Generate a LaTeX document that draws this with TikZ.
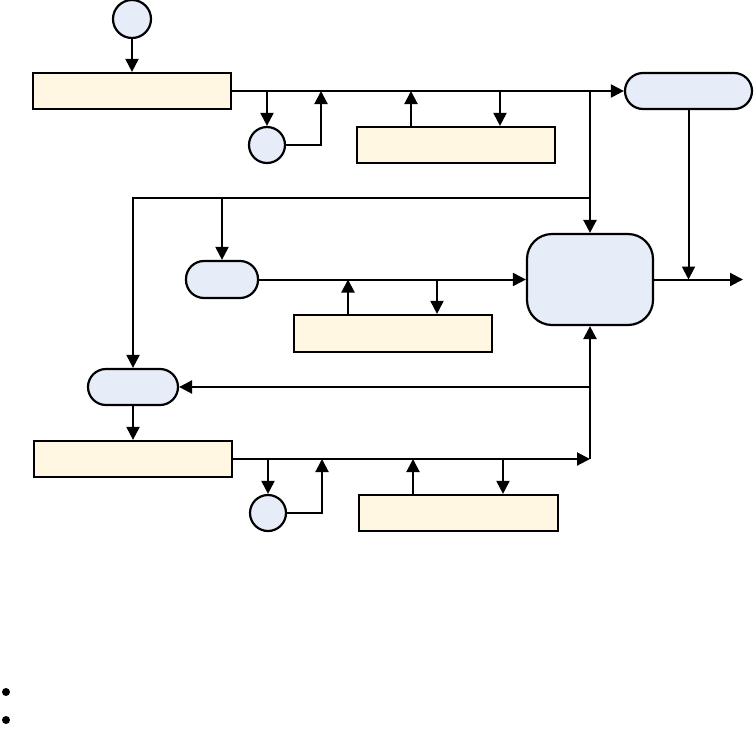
\documentclass[tikz,border=0pt]{standalone}
\usetikzlibrary{arrows.meta}
\tikzset{>={Triangle[length=13pt,width=13pt]}}
\definecolor{boxyellow}{HTML}{FFF7E1}
\definecolor{boxblue}{HTML}{E6EDF8}
\tikzset{
  plain/.style={draw, line width=2.2pt, inner sep=0pt},
  bar/.style={plain, rectangle, fill=boxyellow, minimum width=198pt, minimum height=36pt},
  dot/.style={plain, circle, fill=boxblue, minimum size=36pt},
  pill/.style={plain, rectangle, rounded corners=18pt, fill=boxblue, minimum height=36pt},
  bullet/.style={circle, fill, minimum size=8pt, inner sep=0pt},
  flow/.style={line width=2pt}
}

\begin{document}
\begin{tikzpicture}[x=1pt, y=-1pt]
      \useasboundingbox (0, 0) rectangle (754, 734);
      % blocks
      \node[dot, minimum size=38pt] (src) at (132, 19) {};
      \node[bar] (barA) at (132, 91) {};
      \node[dot] (dotA) at (267, 145) {};
      \node[bar] (barB) at (456, 145) {};
      \node[pill, minimum width=127pt] (pillR) at (688.5, 91) {};
      \node[plain, rectangle, rounded corners=25pt, fill=boxblue, minimum width=126pt, minimum height=91pt] (core) at (590, 279.5) {};
      \node[pill, minimum width=72pt, minimum height=37pt] (pillM) at (222, 279.5) {};
      \node[bar, minimum height=37pt] (barM) at (393, 333.5) {};
      \node[pill, minimum width=90pt] (pillL) at (133, 387) {};
      \node[bar] (barC) at (133, 459) {};
      \node[dot] (dotC) at (268, 513) {};
      \node[bar, minimum width=199pt] (barD) at (458.5, 513) {};
      \node[bullet] (b1) at (6, 692) {};
      \node[bullet] (b2) at (6, 720) {};
      % junctions
      \coordinate (jA) at (321, 91);
      \coordinate (t1) at (411, 91);
      \coordinate (t2) at (500, 91);
      \coordinate (t3) at (590, 91);
      \coordinate (t4) at (590, 198);
      \coordinate (out) at (743, 279.5);
      \coordinate (t5) at (348, 279.5);
      \coordinate (t6) at (437, 279.5);
      \coordinate (t7) at (590, 459);
      \coordinate (jC) at (322, 459);
      \coordinate (t8) at (413, 459);
      \coordinate (t9) at (503, 459);
      % top row
      \draw[flow, ->] (src) -- (barA);
      \draw[flow, ->] (barA) -- (pillR);
      \draw[flow, ->] (dotA |- barA) -- (dotA);
      \draw[flow, ->] (dotA.east) -| (jA);
      \draw[flow, ->] (t1 |- barB.north) -- (t1);
      \draw[flow, ->] (t2) -- (t2 |- barB.north);
      \draw[flow, line width=2.4pt, ->] (t3) -- (core.north);
      \draw[flow, ->] (t4) -| (pillL.north);
      \draw[flow, ->] (pillM |- t4) -- (pillM.north);
      \draw[flow, ->] (pillR.south) -- (pillR.south |- out);
      \draw[flow, ->] (core.east) -- (out);
      % middle row
      \draw[flow, ->] (pillM) -- (core);
      \draw[flow, ->] (t5 |- barM.north) -- (t5);
      \draw[flow, ->] (t6) -- (t6 |- barM.north);
      % bottom row
      \draw[flow, ->] (pillL) -- (barC);
      \draw[flow, ->] (barC) -- (t7);
      \draw[flow, ->] (dotC |- barC) -- (dotC);
      \draw[flow, ->] (dotC.east) -| (jC);
      \draw[flow, ->] (t8 |- barD.north) -- (t8);
      \draw[flow, ->] (t9) -- (t9 |- barD.north);
      \draw[flow, line width=2.4pt, ->] (t7) -- (core.south);
      \draw[flow, line width=2.4pt, ->] (t7 |- pillL) -- (pillL.east);
    \end{tikzpicture}
\end{document}
